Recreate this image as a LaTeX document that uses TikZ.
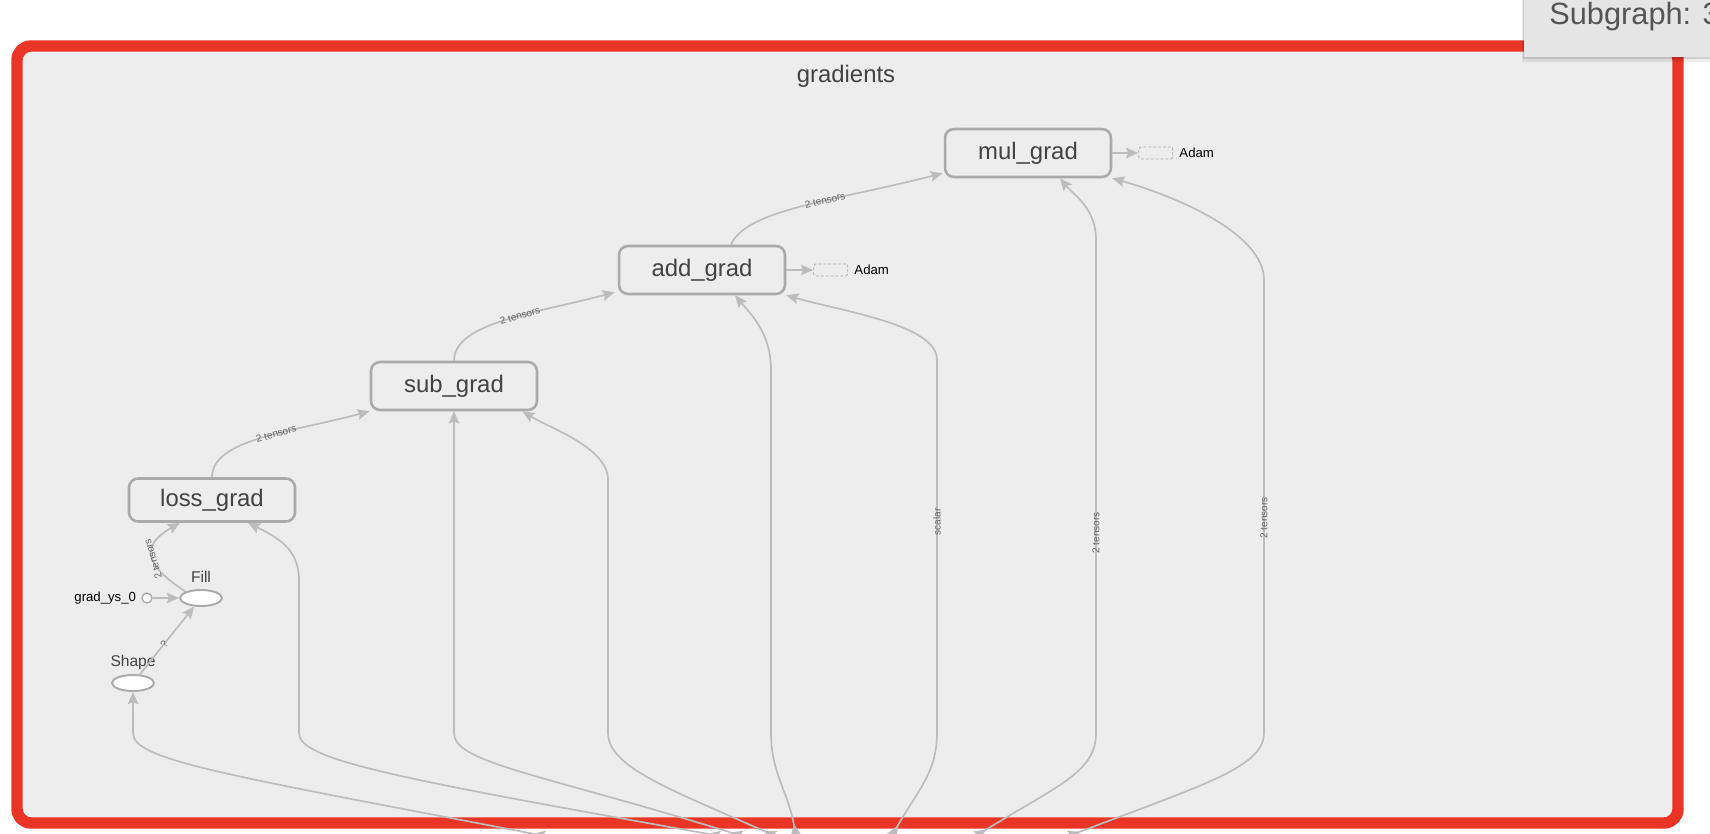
\documentclass[tikz,border=0pt]{standalone}
\usepackage{fontspec}
\setmainfont{Liberation Sans}
\usepackage{tikz}
\usetikzlibrary{shapes.geometric, arrows.meta, positioning, calc}
\definecolor{frameFg}{RGB}{234, 52, 37}
\definecolor{frameBg}{RGB}{237, 237, 237}
\definecolor{nodeLine}{RGB}{170, 170, 170}
\definecolor{edgeLine}{RGB}{188, 188, 188}
\definecolor{textDark}{RGB}{66, 66, 66}
\definecolor{edgeText}{RGB}{100, 100, 100}
\definecolor{legendBg}{RGB}{229, 229, 229}
\definecolor{legendFg}{RGB}{85, 85, 85}
\tikzstyle{edge} = [draw=edgeLine, line width=0.95pt, ->, >={Stealth[length=7pt, width=6pt, inset=1.2pt]}]
\tikzstyle{frame} = [draw=frameFg, fill=frameBg, line width=6.5pt, rounded corners=0.28cm]
\tikzstyle{op} = [rectangle, rounded corners=0.18cm, draw=nodeLine, line width=1.45pt, fill=frameBg, text=textDark, minimum width=3.32cm, minimum height=0.96cm, font=\fontsize{13.6}{16}\selectfont]
\tikzstyle{leaf} = [ellipse, draw=nodeLine, line width=1.1pt, fill=white, minimum width=0.84cm, minimum height=0.32cm, inner sep=0pt]
\tikzstyle{hint} = [rectangle, rounded corners=1pt, draw=nodeLine, dash pattern=on 1.7pt off 1.1pt, line width=0.5pt, minimum width=0.68cm, minimum height=0.24cm, inner sep=0pt]
\tikzstyle{small} = [inner sep=0pt, text=black, font=\fontsize{7.5}{9}\selectfont]
\tikzstyle{leaftext} = [inner sep=0pt, text=textDark, font=\fontsize{8.85}{10}\selectfont]
\tikzstyle{elabel} = [inner sep=0.5pt, text=edgeText, font=\fontsize{5.7}{6}\selectfont]

\begin{document}
\begin{tikzpicture}[x=0.02cm, y=-0.02cm]
\useasboundingbox (0,0) rectangle (1710,834);
\fill[white] (0,0) rectangle (1710,834);

\draw[frame] (17,46) rectangle (1678,823);
\node (title) [anchor=base, text=textDark, font=\fontsize{13.6}{16}\selectfont] at(846,83) {gradients};

\node (loss) [op, minimum height=0.86cm] at(212,500) {loss\_grad};
\node (sub) [op] at(454,386) {sub\_grad};
\node (add) [op] at(702,270) {add\_grad};
\node (mul) [op] at(1028,153) {mul\_grad};

\node (adam0) [hint, anchor=west, xshift=0.54cm] at(add.east) {};
\node (adam0txt) [small, anchor=west, xshift=0.12cm] at(adam0.east) {Adam};
\node (adam1) [hint, anchor=west, xshift=0.52cm] at(mul.east) {};
\node (adam1txt) [small, anchor=west, xshift=0.12cm] at(adam1.east) {Adam};

\node (fill) [leaf] at(201,598) {};
\node (filltxt) [leaftext, anchor=base, yshift=0.14cm] at(fill.north) {Fill};
\node (shape) [leaf] at(133,683) {};
\node (shapetxt) [leaftext, anchor=base, yshift=0.16cm] at(shape.north) {Shape};
\node (ys0) [circle, draw=nodeLine, line width=0.75pt, fill=white, minimum size=0.2cm, inner sep=0pt] at(147,598) {};
\node (ys0txt) [small, anchor=east, xshift=-0.1cm] at(ys0.west) {grad\_ys\_0};

\coordinate (in0) at (545,836);
\coordinate (in1) at (720,836);
\coordinate (in2) at (742,836);
\coordinate (in3) at (775,836);
\coordinate (in4) at (796,836);
\coordinate (in5) at (892,836);
\coordinate (in6) at (976,836);
\coordinate (in7) at (1069,836);

\draw[edge] (ys0) -- (fill);
\draw[edge] (shape) -- (fill) node[elabel, pos=0.45, sloped] {?};
\draw[edge] (fill.north west) .. controls +(-41,-27) and +(-40,23) .. ($(loss.south)+(-32,0)$) node[elabel, pos=0.45, sloped, allow upside down] {2 tensors};
\draw[edge] (loss.north) .. controls +(0,-38) and +(-79,21) .. (sub.south west) node[elabel, pos=0.58, sloped] {2 tensors};
\draw[edge] (sub.north) .. controls +(0,-38) and +(-79,21) .. ($(add.south west)+(-3,-3)$) node[elabel, pos=0.58, sloped] {2 tensors};
\draw[edge] ($(add.north)+(29,0)$) .. controls +(15,-35) and +(-110,28) .. ($(mul.south west)+(-1,-5)$) node[elabel, pos=0.6, sloped] {2 tensors};
\draw[edge] (add.east) -- (adam0.west);
\draw[edge] (mul.east) -- (adam1.west);

\draw[edge, >->] (in0) .. controls +(-324,-62) and +(0,27) .. (133,733) -- (shape);
\draw[edge, >->] (in1) .. controls +(-325,-58) and +(0,27) .. (299,733) -- (299,580) .. controls +(0,-32) and +(28,14) .. ($(loss.south)+(36,0)$);
\draw[edge, >->] (in2) .. controls +(-200,-62) and +(0,30) .. (454,733) -- (sub);
\draw[edge, >->] (in3) .. controls +(-100,-45) and +(0,35) .. (608,733) -- (608,480) .. controls +(0,-32) and +(30,18) .. ($(sub.south east)+(-16,0)$);
\draw[edge, >->] (in4) .. controls +(-8,-45) and +(0,40) .. (771,733) -- (771,370) .. controls +(0,-38) and +(14,17) .. ($(add.south)+(33,0)$);
\draw[edge, >->] (in5) .. controls +(25,-45) and +(0,40) .. (937,733) -- node[elabel, pos=0.566, rotate=90] {scalar} (937,360) .. controls +(0,-35) and +(60,17) .. (add.south east);
\draw[edge, >->] (in6) .. controls +(80,-50) and +(0,40) .. (1096,733) -- node[elabel, pos=0.406, rotate=90] {2 tensors} (1096,240) .. controls +(0,-32) and +(14,17) .. ($(mul.south)+(32,0)$);
\draw[edge, >->] (in7) .. controls +(130,-50) and +(0,35) .. (1264,733) -- node[elabel, pos=0.475, rotate=90] {2 tensors} (1264,280) .. controls +(0,-45) and +(70,20) .. (mul.south east);

\fill[black, opacity=0.08] (1522,0) rectangle (1712,62);
\fill[black, opacity=0.12] (1523,0) rectangle (1712,59);
\fill[legendBg] (1524,-2) rectangle (1712,57);
\node (legend) [anchor=base west, inner sep=0pt, text=legendFg, font=\fontsize{17.5}{20}\selectfont] at(1549,25) {Subgraph: 3};

\end{tikzpicture}
\end{document}
